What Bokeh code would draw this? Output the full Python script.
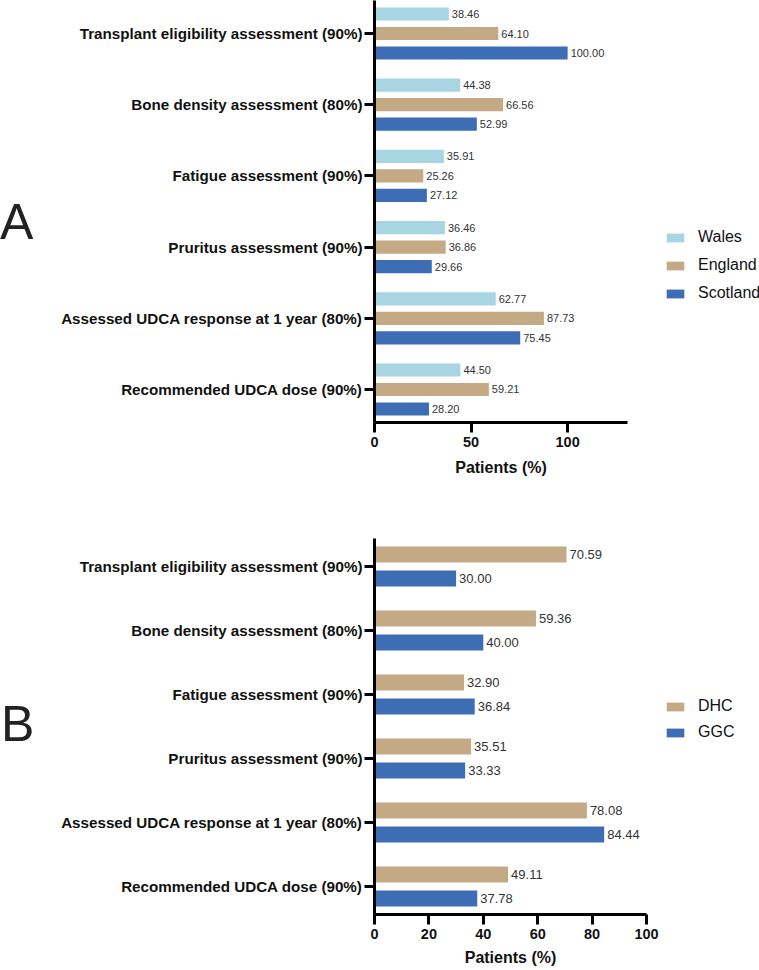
from bokeh.plotting import figure
from bokeh.models import Range1d, FixedTicker, Legend, LegendItem, ColumnDataSource, Div
from bokeh.layouts import column, row
from bokeh.embed import file_html
from bokeh.resources import INLINE
from bokeh.core.properties import value

# ---------------- data ----------------
categories = [
    "Transplant eligibility assessment (90%)",
    "Bone density assessment (80%)",
    "Fatigue assessment (90%)",
    "Pruritus assessment (90%)",
    "Assessed UDCA response at 1 year (80%)",
    "Recommended UDCA dose (90%)",
]
wales = [38.46, 44.38, 35.91, 36.46, 62.77, 44.50]
england = [64.10, 66.56, 25.26, 36.86, 87.73, 59.21]
scotland = [100.00, 52.99, 27.12, 29.66, 75.45, 28.20]
dhc = [70.59, 59.36, 32.90, 35.51, 78.08, 49.11]
ggc = [30.00, 40.00, 36.84, 33.33, 84.44, 37.78]
ticks_a = [0, 50, 100]
ticks_b = [0, 20, 40, 60, 80, 100]
axis_title = "Patients (%)"

FONT = "Liberation Sans"
C_WALES = "#A8D5E2"
C_ENG = "#C4AA84"
C_BLUE = "#3D6DB5"

n = len(categories)
ypos = [n - 1 - i for i in range(n)]


def make_panel(series, colors, offsets, bar_h, x_end, xticks, width, height,
               borders, y_pad, val_font, tick_standoff, label_standoff):
    top, right, bottom, left = borders
    p = figure(width=width, height=height, output_backend="svg", toolbar_location=None,
               x_range=Range1d(0, x_end), y_range=Range1d(-y_pad, n - 1 + y_pad),
               min_border_top=top, min_border_right=right, min_border_bottom=bottom,
               min_border_left=left, outline_line_color=None,
               background_fill_color="white", border_fill_color="white")
    p.grid.visible = False
    for vals, col, off in zip(series, colors, offsets):
        src = ColumnDataSource(dict(
            y=[v + off for v in ypos], x=vals, lbl=["%.2f" % v for v in vals]))
        p.hbar(y="y", right="x", left=0, height=bar_h, source=src,
               fill_color=col, line_color=None)
        p.text(x="x", y="y", text="lbl", source=src, x_offset=3,
               text_baseline="middle", text_align="left",
               text_font=value(FONT), text_font_size=val_font, text_color="#333333")

    for ax in (p.xaxis[0], p.yaxis[0]):
        ax.axis_line_width = 3
        ax.axis_line_color = "black"
        ax.major_tick_line_width = 3
        ax.major_tick_line_color = "black"
        ax.major_tick_out = 10
        ax.major_tick_in = 0
        ax.minor_tick_line_color = None
        ax.major_label_text_font = FONT
        ax.major_label_text_font_style = "bold"
        ax.major_label_text_color = "#111111"

    ya = p.yaxis[0]
    ya.ticker = FixedTicker(ticks=ypos)
    ya.major_label_overrides = {pos: cat for pos, cat in zip(ypos, categories)}
    ya.major_label_text_font_size = "15.2px"
    ya.major_label_standoff = 2

    xa = p.xaxis[0]
    xa.ticker = FixedTicker(ticks=xticks)
    xa.major_label_text_font_size = "14.5px"
    xa.major_label_standoff = tick_standoff
    xa.axis_label = axis_title
    xa.axis_label_text_font = FONT
    xa.axis_label_text_font_style = "bold"
    xa.axis_label_text_font_size = "16px"
    xa.axis_label_text_color = "#111111"
    xa.axis_label_standoff = label_standoff
    return p


def legend_panel(series, names, colors, width, height, loc, spacing):
    # legend-only figure: the series' bars lie outside its (empty) ranges,
    # so only the legend swatches and labels show
    f = figure(width=width, height=height, output_backend="svg", toolbar_location=None,
               x_range=Range1d(-2, -1), y_range=Range1d(-2, -1),
               x_axis_location=None, y_axis_location=None,
               min_border_top=0, min_border_right=0, min_border_bottom=0, min_border_left=0,
               outline_line_color=None, background_fill_color="white",
               border_fill_color="white")
    f.grid.visible = False
    items = []
    for vals, name, col in zip(series, names, colors):
        r = f.hbar(y=ypos, right=vals, left=0, height=0.2, fill_color=col, line_color=None)
        items.append(LegendItem(label=name, renderers=[r]))
    leg = Legend(items=items, location=loc, glyph_width=22, glyph_height=11,
                 label_standoff=12, label_text_font=FONT, label_text_font_size="16px",
                 label_text_color="#111111", label_height=18, spacing=spacing,
                 padding=0, margin=0, border_line_color=None, background_fill_alpha=0)
    f.add_layout(leg)
    return f


def letter_div(letter, top_pad, left_pad, height):
    html = ('<div style="padding-top:%dpx;padding-left:%dpx;font-family:\'Liberation Sans\';'
            'font-size:50px;line-height:50px;color:#222222;">%s</div>'
            % (top_pad, left_pad, letter))
    return Div(text=html, width=40, height=height, margin=0)


H1, H2 = 479, 491

pA = make_panel(
    series=[wales, england, scotland], colors=[C_WALES, C_ENG, C_BLUE],
    offsets=[0.274, 0.0, -0.274], bar_h=0.185, x_end=131, xticks=ticks_a,
    width=591, height=H1, borders=(0, 4, 57, 334), y_pad=0.4635, val_font="11px",
    tick_standoff=4, label_standoff=9)
legA = legend_panel([wales, england, scotland], ["Wales", "England", "Scotland"],
                    [C_WALES, C_ENG, C_BLUE], width=128, height=H1, loc=(33, 120),
                    spacing=10)

pB = make_panel(
    series=[dhc, ggc], colors=[C_ENG, C_BLUE],
    offsets=[0.1875, -0.1875], bar_h=0.25, x_end=100, xticks=ticks_b,
    width=620, height=H2, borders=(59, 14, 56, 334), y_pad=0.4375, val_font="13px",
    tick_standoff=4, label_standoff=7)
legB = legend_panel([dhc, ggc], ["DHC", "GGC"], [C_ENG, C_BLUE],
                    width=99, height=H2, loc=(4, 173), spacing=8)

layout = column(
    row(letter_div("A", 197, 0, H1), pA, legA, spacing=0),
    row(letter_div("B", 220, 1, H2), pB, legB, spacing=0),
    spacing=0)

open("out.html", "w").write(file_html(layout, INLINE))
